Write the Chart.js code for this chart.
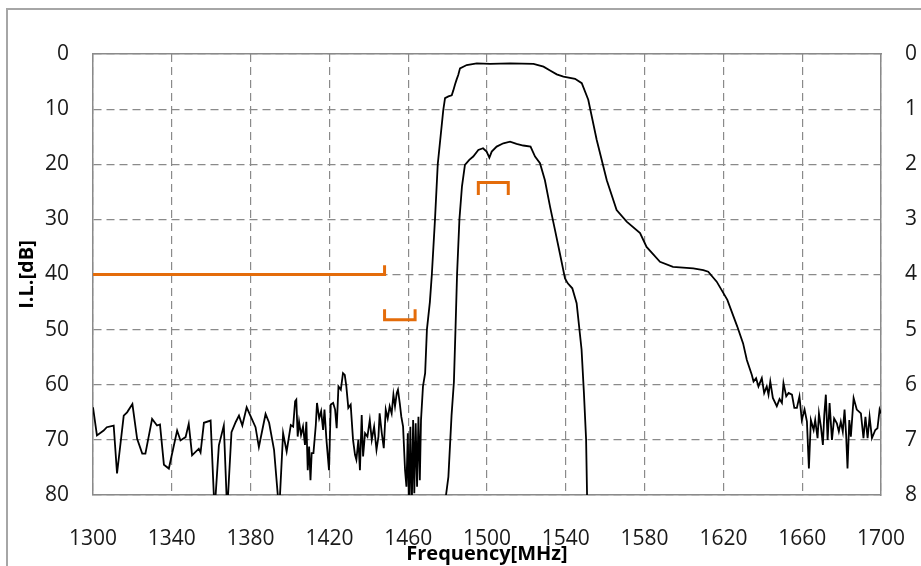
<!DOCTYPE html>
<html>
<head>
<meta charset="utf-8">
<script src="https://cdn.jsdelivr.net/npm/chart.js@4"></script>
<style>
  html, body { margin: 0; padding: 0; background: #fff; overflow: hidden; }
  #frame { position: absolute; left: 6px; top: 8px; width: 2000px; height: 2000px; border-left: 2px solid #a6a6a6; border-top: 2px solid #a6a6a6; }
  #wrap { position: absolute; left: 0; top: 0; width: 921px; height: 566px; }
</style>
</head>
<body>
<div id="frame"></div>
<div id="wrap"><canvas id="ilChart"></canvas></div>
<script>
// wide filter response (freq MHz / I.L. dB)
const wideFreq = [
  1300, 1302, 1305.4, 1307, 1310.5, 1312.2, 1315.6, 1317.3, 1320, 1322.4, 1325, 1326.6, 1330, 1332.5, 1334, 1336, 1338.5,
  1342.7, 1344.4, 1347, 1348.6, 1350.3, 1353.7, 1354.6, 1356.3, 1359.7, 1361.7, 1363.9, 1366.4, 1368.1, 1370.3, 1372.4,
  1374.1, 1375.8, 1378, 1382.5, 1384.2, 1387.6, 1389.4, 1391.9, 1394.5, 1396.5, 1398.3, 1400.4, 1401.6, 1402.6, 1403.2,
  1403.9, 1404.6, 1405.6, 1406.6, 1407.6, 1408.3, 1409, 1409.7, 1410.4, 1411, 1411.9, 1413.1, 1413.7, 1414.8, 1415.8,
  1416.8, 1417.5, 1418.5, 1419.8, 1420.7, 1421.9, 1422.9, 1423.7, 1424.6, 1425.8, 1426.9, 1427.8, 1428.6, 1429.6, 1430.8,
  1432, 1433, 1433.7, 1434.7, 1435.5, 1436.4, 1437.1, 1438.1, 1439.3, 1440.5, 1441.5, 1442.7, 1443.9, 1444.9, 1445.5,
  1446.6, 1447.6, 1448.6, 1449.6, 1450.6, 1451.6, 1452.5, 1453.3, 1454.2, 1454.8, 1455.7, 1456.5, 1457.4, 1458.4, 1459.1,
  1459.8, 1460.4, 1461.1, 1461.8, 1462.5, 1463.1, 1463.8, 1464.5, 1465.2, 1465.9, 1466.5, 1467.5, 1468.6,
  1469.5, 1471, 1472, 1473.6, 1475, 1477.8, 1478.7, 1480.4, 1482.1, 1482.9, 1483.8, 1484.6, 1485.4, 1486.3, 1489.7,
  1494.8, 1501.6, 1511.8, 1523.6, 1528.7, 1532, 1535.4, 1538.8, 1544.7, 1548.1, 1551.4, 1555.7, 1560.8, 1565.8, 1570.9,
  1577.7, 1581, 1587.8, 1594.4, 1604.7, 1609.8, 1612.3, 1616.6, 1622, 1627, 1630, 1631.9,
  1634.4, 1635.3, 1636.6, 1637.8, 1639.5, 1640.7, 1642, 1642.9, 1643.8, 1645.1, 1647.1, 1648.5, 1649.7, 1650.5, 1651.9,
  1653.1, 1654.8, 1656, 1657.3, 1658.6, 1659.8, 1661.2, 1662.4, 1663.4, 1664.4, 1665.8, 1666.6, 1667.8, 1668.5, 1669.5,
  1670.5, 1671.2, 1672, 1672.9, 1673.9, 1675.1, 1676.2, 1677.6, 1678.6, 1679.6, 1680.6, 1681.5, 1682.3, 1683, 1683.9,
  1684.7, 1686.1, 1687.7, 1689.8, 1691.1, 1692.1, 1693.2, 1694.2, 1695.4, 1697.1, 1698.2, 1699.3, 1700
];
const wideLoss = [
  64.1, 69.2, 68.3, 67.7, 67.4, 76.1, 65.6, 65, 63.5, 69.8, 72.5, 72.5, 66.2, 67.4, 67.2, 74.5, 75.2,
  68.3, 70.1, 69.5, 67.1, 72.8, 71.6, 72.3, 66.9, 66.5, 83, 71, 67.4, 83, 68.6, 66.8,
  65.6, 67.4, 64.1, 67.7, 71.3, 65.3, 66.9, 71.8, 83, 68.8, 72.1, 67.3, 67.6, 63, 62.7,
  69.4, 66.7, 69.1, 67.6, 70.9, 66.7, 75.5, 71.2, 77.3, 72.4, 72.4, 67.3, 63.3, 66.1, 64.8,
  68.2, 64.5, 70, 75.5, 63.6, 63.3, 64.5, 67.9, 60.3, 60.9, 57.9, 58.2, 60.3, 64.2, 63.6,
  70, 72.7, 73.6, 70, 75.5, 65.5, 73, 68.8, 69.4, 66.4, 70, 67.6, 71.8, 69.4, 65.2,
  68.8, 71.5, 64.5, 66.1, 63.9, 65.2, 61.8, 63.9, 61.5, 60.9, 63.3, 65.8, 67.6, 75.5, 78.5,
  68.8, 83, 67.6, 83, 66.4, 79.7, 67, 78.5, 65.8, 77.3, 66.4, 60.3, 57.9,
  50, 45, 40, 30, 20, 10.2, 8, 7.7, 7.5, 6.6, 5.5, 4.6, 3.8, 2.6, 2.0,
  1.7, 1.8, 1.7, 1.8, 2.3, 3.0, 3.7, 4.1, 4.5, 5.3, 8.3, 15.6, 22.9, 28.3, 30.4,
  32.5, 35, 37.7, 38.6, 38.9, 39.2, 39.5, 41.3, 44.6, 49.4, 52.5, 55.5,
  58.2, 59.4, 58.8, 60.3, 58.8, 61.5, 60.3, 61.8, 59.4, 62.4, 63.9, 62.6, 63.3, 59.7, 62.1,
  61.5, 61.8, 64.2, 64.2, 62.1, 66.4, 64.5, 66.7, 75.2, 66.4, 68.2, 66.4, 69.7, 65.2, 67.6,
  70.9, 65.5, 61.8, 70, 63.3, 70, 66.1, 67, 68.5, 66.7, 68.5, 64.5, 69.1, 75.2, 66.4,
  69.4, 62.4, 64.5, 65.2, 69.7, 65.8, 69.7, 65.8, 69.7, 68.2, 67.9, 64.5, 65.2
];

// narrow filter response
const narrowFreq = [
  1478.3, 1479.2, 1480.4, 1482, 1483.2, 1484, 1484.8, 1486, 1487.3, 1488.8, 1491, 1493, 1495.6, 1498, 1499.8, 1501.2,
  1502.4, 1504.9, 1508.3, 1511.7, 1515, 1518.4, 1522.1, 1524.4, 1526.9, 1529.4, 1532, 1534.5, 1537, 1539.6, 1541,
  1543.3, 1545.5, 1548, 1549.2, 1550.3, 1550.8, 1551.1
];
const narrowLoss = [
  86, 80, 76.7, 65.6, 59.5, 50, 40, 30, 24, 20.1, 19.2, 18.6, 17.4, 17.1, 17.7, 18.8,
  17.7, 16.8, 16.2, 15.9, 16.3, 16.6, 16.8, 18.6, 19.8, 22.9, 27.7, 31.9, 36.2, 40.7, 41.6,
  42.5, 45.2, 53.6, 61.5, 69.9, 80.2, 86
];

// spec limits (orange)
const specLowFreq = [1300, 1448, 1448];
const specLowLoss = [40, 40, 38.3];
const specMidFreq = [1448, 1448, 1463.5, 1463.5];
const specMidLoss = [46.3, 48.2, 48.2, 46.3];
const specPassFreq = [1495.6, 1495.6, 1510.8, 1510.8];
const specPassLoss = [25.6, 23.3, 23.3, 25.6];

const xTicks = [1300, 1340, 1380, 1420, 1460, 1500, 1540, 1580, 1620, 1660, 1700];
const leftTicks = [0, 10, 20, 30, 40, 50, 60, 70, 80];
const rightTicks = [0, 1, 2, 3, 4, 5, 6, 7, 8];

const zip = (fs, ls) => fs.map((f, i) => ({ x: f, y: ls[i] }));

const black = '#000000';
const orange = '#E46C0A';
const gridGrey = '#8a8a8a';
const FONT = "'Open Sans', sans-serif";

const curve = (data, colour, width) => ({
  data: data,
  borderColor: colour,
  backgroundColor: colour,
  borderWidth: width,
  pointRadius: 0,
  tension: 0,
  fill: false,
  yAxisID: 'y'
});

const plain = v => String(v);

new Chart(document.getElementById('ilChart').getContext('2d'),
{
  type: 'line',
  data:
  {
    datasets:
    [
      curve(zip(wideFreq, wideLoss), black, 1.8),
      curve(zip(narrowFreq, narrowLoss), black, 1.8),
      curve(zip(specLowFreq, specLowLoss), orange, 3),
      curve(zip(specMidFreq, specMidLoss), orange, 3),
      curve(zip(specPassFreq, specPassLoss), orange, 3)
    ]
  },
  options:
  {
    responsive: true,
    maintainAspectRatio: false,
    animation: false,
    layout: { padding: { top: 54, left: 0, right: 0, bottom: 0 } },
    plugins:
    {
      legend: { display: false },
      tooltip: { enabled: false }
    },
    scales:
    {
      x:
      {
        type: 'linear',
        position: 'bottom',
        min: 1300,
        max: 1700,
        afterBuildTicks: s => { s.ticks = xTicks.map(v => ({ value: v })); },
        afterFit: s => { s.height = 71; s.paddingLeft = 0; s.paddingRight = 0; },
        ticks: { color: '#1a1a1a', padding: 31, font: { family: FONT, size: 21 }, maxRotation: 0, autoSkip: false, callback: plain },
        grid: { color: gridGrey, lineWidth: 1.2, drawTicks: false },
        border: { display: true, color: gridGrey, width: 1.5, dash: [8, 5] },
        title:
        {
          display: true,
          text: 'Frequency[MHz]',
          color: '#000',
          font: { family: FONT, size: 20, weight: 'bold' },
          padding: { top: 0, bottom: 0 }
        }
      },
      xTop:
      {
        type: 'linear',
        position: 'top',
        min: 1300,
        max: 1700,
        afterFit: s => { s.height = 0; s.paddingLeft = 0; s.paddingRight = 0; },
        ticks: { display: false },
        grid: { display: false, drawTicks: false },
        border: { display: true, color: gridGrey, width: 1.5 }
      },
      y:
      {
        type: 'linear',
        position: 'left',
        reverse: true,
        min: 0,
        max: 80,
        afterBuildTicks: s => { s.ticks = leftTicks.map(v => ({ value: v })); },
        afterFit: s => { s.width = 93; },
        ticks: { color: '#1a1a1a', padding: 24, font: { family: FONT, size: 21 }, callback: plain },
        grid: { color: gridGrey, lineWidth: 1.2, drawTicks: false },
        border: { display: true, color: gridGrey, width: 1.5, dash: [8, 5] },
        title:
        {
          display: true,
          text: 'I.L.[dB]',
          color: '#000',
          font: { family: FONT, size: 20, weight: 'bold' },
          padding: { top: 15, bottom: 0 }
        }
      },
      y2:
      {
        type: 'linear',
        position: 'right',
        reverse: true,
        min: 0,
        max: 8,
        afterBuildTicks: s => { s.ticks = rightTicks.map(v => ({ value: v })); },
        afterFit: s => { s.width = 40; },
        ticks: { color: '#1a1a1a', padding: 24, font: { family: FONT, size: 21 }, callback: plain },
        grid: { display: false, drawTicks: false },
        border: { display: true, color: gridGrey, width: 1.5 }
      }
    }
  }
});
</script>
</body>
</html>
